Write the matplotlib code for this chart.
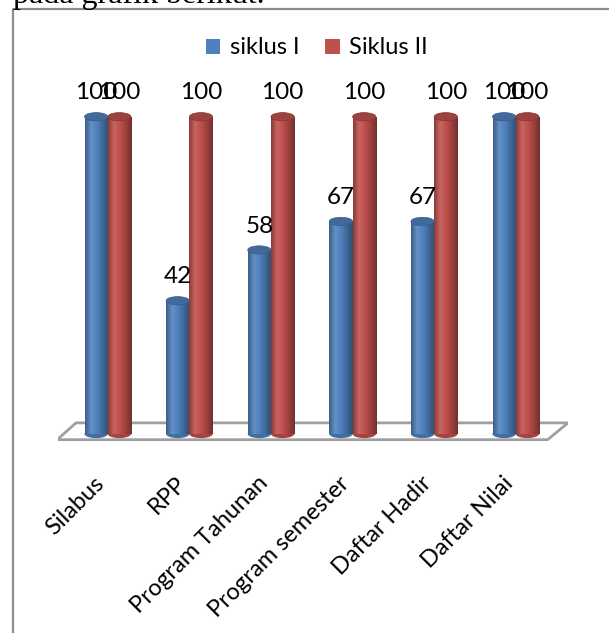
import numpy as np
import matplotlib
matplotlib.use("Agg")
import matplotlib.pyplot as plt
from matplotlib.patches import Ellipse, Polygon, Patch
from matplotlib.lines import Line2D
from matplotlib.colors import LinearSegmentedColormap

plt.rcParams['font.family'] = ['Lato', 'DejaVu Sans']

# data
categories = ['Silabus', 'RPP', 'Program Tahunan', 'Program semester', 'Daftar Hadir', 'Daftar Nilai']
siklus_1 = [100, 42, 58, 67, 67, 100]
siklus_2 = [100, 100, 100, 100, 100, 100]
series_names = ['siklus I', 'Siklus II']

blue = '#4F81BD'
red = '#C0504D'


def shade(hexcol, f):
    c = np.array(matplotlib.colors.to_rgb(hexcol))
    if f < 1:
        return tuple(c * f)
    return tuple(c + (1 - c) * (f - 1))


def cylinder(ax, xc, val, w, col):
    # body with horizontal gradient to fake the 3d look
    cmap = LinearSegmentedColormap.from_list(
        'cyl', [shade(col, 0.72), shade(col, 1.12), shade(col, 1.0), shade(col, 0.8), shade(col, 0.6)])
    eh = 2.6
    bot = Ellipse((xc, 0), w, eh, facecolor=shade(col, 0.85), edgecolor='none', zorder=3)
    ax.add_patch(bot)
    bar = ax.bar(xc, val, w, bottom=0, color='none', edgecolor='none', zorder=4)[0]
    grad = np.linspace(0, 1, 64).reshape(1, -1)
    im = ax.imshow(grad, cmap=cmap, extent=(xc - w / 2, xc + w / 2, 0, val),
                   aspect='auto', zorder=4, interpolation='bilinear')
    im.set_clip_path(bar)
    top = Ellipse((xc, val), w, eh, facecolor=shade(col, 0.82), edgecolor=shade(col, 0.7),
                  linewidth=0.5, zorder=5)
    ax.add_patch(top)


fig = plt.figure(figsize=(6.09, 6.33), dpi=100)

# text fragment from the page above the chart
fig.text(13 / 609, 1 - 3 / 633, 'pada grafik berikut.', family='Liberation Serif',
         fontsize=23, ha='left', va='baseline')

# chart frame (cut on right and bottom)
fig.add_artist(Line2D([13 / 609, 13 / 609, 1.0], [0.0, 1 - 9 / 633, 1 - 9 / 633],
                      transform=fig.transFigure, color='#8c8c8c', linewidth=1.6))

ax = fig.add_axes([58 / 609, (633 - 443.5) / 633, (568 - 58) / 609, (443.5 - 85) / 633])
x = np.arange(len(categories))
ax.set_xlim(-0.61, 5.64)
ax.set_ylim(-3, 110)
ax.axis('off')

# floor
floor = Polygon([(-0.62, -1.8), (-0.39, 3.5), (5.64, 3.5), (5.39, -1.8)], closed=True,
                facecolor='white', edgecolor='#a0a0a0', linewidth=2.0, zorder=1)
ax.add_patch(floor)

w = 0.285
for i in range(len(categories)):
    cylinder(ax, x[i] - w / 2, siklus_1[i], w, blue)
    cylinder(ax, x[i] + w / 2, siklus_2[i], w, red)
    ax.text(x[i] - w / 2, siklus_1[i] + 7.5, str(siklus_1[i]), ha='center', va='center', fontsize=17.5, zorder=6)
    ax.text(x[i] + w / 2, siklus_2[i] + 7.5, str(siklus_2[i]), ha='center', va='center', fontsize=17.5, zorder=6)
    ax.text(x[i] - 0.08, -14.5, categories[i], rotation=45, ha='right', va='center',
            rotation_mode='anchor', fontsize=17, clip_on=False)

handles = [Patch(facecolor=blue), Patch(facecolor=red)]
fig.legend(handles, series_names, loc='center', bbox_to_anchor=(0.52, 1 - 48 / 633), ncol=2,
           frameon=False, fontsize=17, handlelength=0.62, handleheight=0.62,
           handletextpad=0.4, columnspacing=1.1)

fig.savefig('out.png', dpi=100)
